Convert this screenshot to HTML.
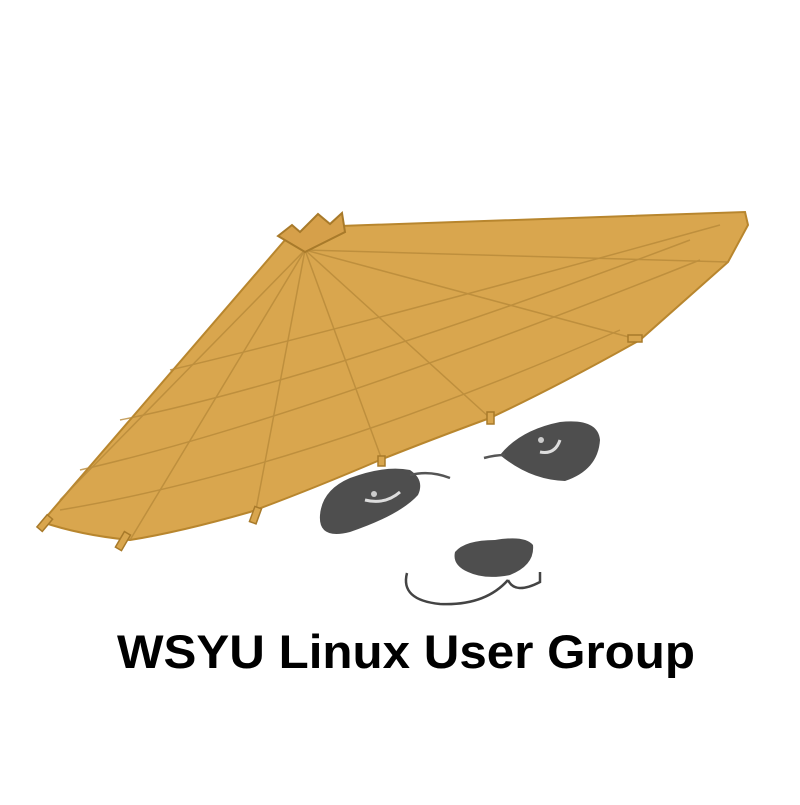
<!DOCTYPE html>
<html><head><style>html,body{margin:0;padding:0;background:#fff}</style></head><body>
<svg width="800" height="800" viewBox="0 0 800 800" xmlns="http://www.w3.org/2000/svg">
<rect width="800" height="800" fill="#fff"/>
<!-- hat -->
<path d="M42,522 L285,240 L340,226 L745,212 L748,225 L728,262 L640,340 Q560,385 490,418 Q430,440 380,460 Q310,490 250,512 Q180,532 130,540 Q80,535 42,522 Z" fill="#d9a64e" stroke="#b8862e" stroke-width="2"/>
<g stroke="#b88a3a" stroke-width="1.5" fill="none" opacity="0.8">
<line x1="305" y1="250" x2="130" y2="540"/>
<line x1="305" y1="250" x2="255" y2="515"/>
<line x1="305" y1="250" x2="382" y2="460"/>
<line x1="305" y1="250" x2="490" y2="418"/>
<line x1="305" y1="250" x2="640" y2="340"/>
<line x1="305" y1="250" x2="728" y2="262"/>
<line x1="305" y1="250" x2="60" y2="500"/>
<path d="M80,470 Q300,420 700,260"/>
<path d="M120,420 Q320,380 690,240"/>
<path d="M170,370 Q340,330 720,225"/>
<path d="M60,510 Q300,470 620,330"/>
</g>
<!-- hat knot -->
<path d="M278,236 L292,225 L300,232 L318,214 L330,224 L342,213 L345,232 L305,252 Z" fill="#d6a04a" stroke="#a87a2a" stroke-width="2"/>
<!-- pegs -->
<g fill="#d9a64e" stroke="#a87a2a" stroke-width="1.5">
<rect x="120" y="532" width="7" height="18" transform="rotate(30 123 540)"/>
<rect x="252" y="507" width="7" height="16" transform="rotate(20 255 515)"/>
<rect x="42" y="515" width="7" height="16" transform="rotate(40 45 522)"/>
<rect x="487" y="412" width="7" height="12"/>
<rect x="378" y="456" width="7" height="10"/>
<rect x="628" y="335" width="14" height="7"/>
</g>
<!-- eyes -->
<path d="M320,515 Q322,490 350,478 Q385,465 410,470 Q425,480 418,495 Q400,515 350,532 Q318,540 320,515 Z" fill="#4e4e4e"/>
<path d="M365,500 Q385,505 400,492" stroke="#ddd" stroke-width="3" fill="none"/>
<circle cx="374" cy="494" r="3" fill="#ccc"/>
<path d="M410,475 Q430,470 450,478" stroke="#555" stroke-width="2.5" fill="none"/>
<path d="M500,455 Q520,430 560,422 Q598,418 600,440 Q598,470 565,481 Q530,480 500,455 Z" fill="#4e4e4e"/>
<path d="M484,458 Q495,455 505,455" stroke="#555" stroke-width="2.5" fill="none"/>
<path d="M540,452 Q555,455 560,440" stroke="#ddd" stroke-width="3" fill="none"/>
<circle cx="541" cy="440" r="3" fill="#ccc"/>
<!-- nose -->
<path d="M455,552 Q465,540 495,540 Q525,535 533,545 Q535,565 510,575 Q485,580 468,572 Q452,565 455,552 Z" fill="#4e4e4e"/>
<!-- mouth -->
<path d="M407,573 Q400,600 440,604 Q485,606 508,580" stroke="#444" stroke-width="2.5" fill="none"/>
<path d="M508,580 Q515,595 540,582 L540,572" stroke="#444" stroke-width="2.5" fill="none"/>
<text x="406" y="668" text-anchor="middle" font-family="Liberation Sans, sans-serif" font-weight="bold" font-size="47" textLength="578" lengthAdjust="spacingAndGlyphs" fill="#000">WSYU Linux User Group</text>
</svg>
</body></html>
